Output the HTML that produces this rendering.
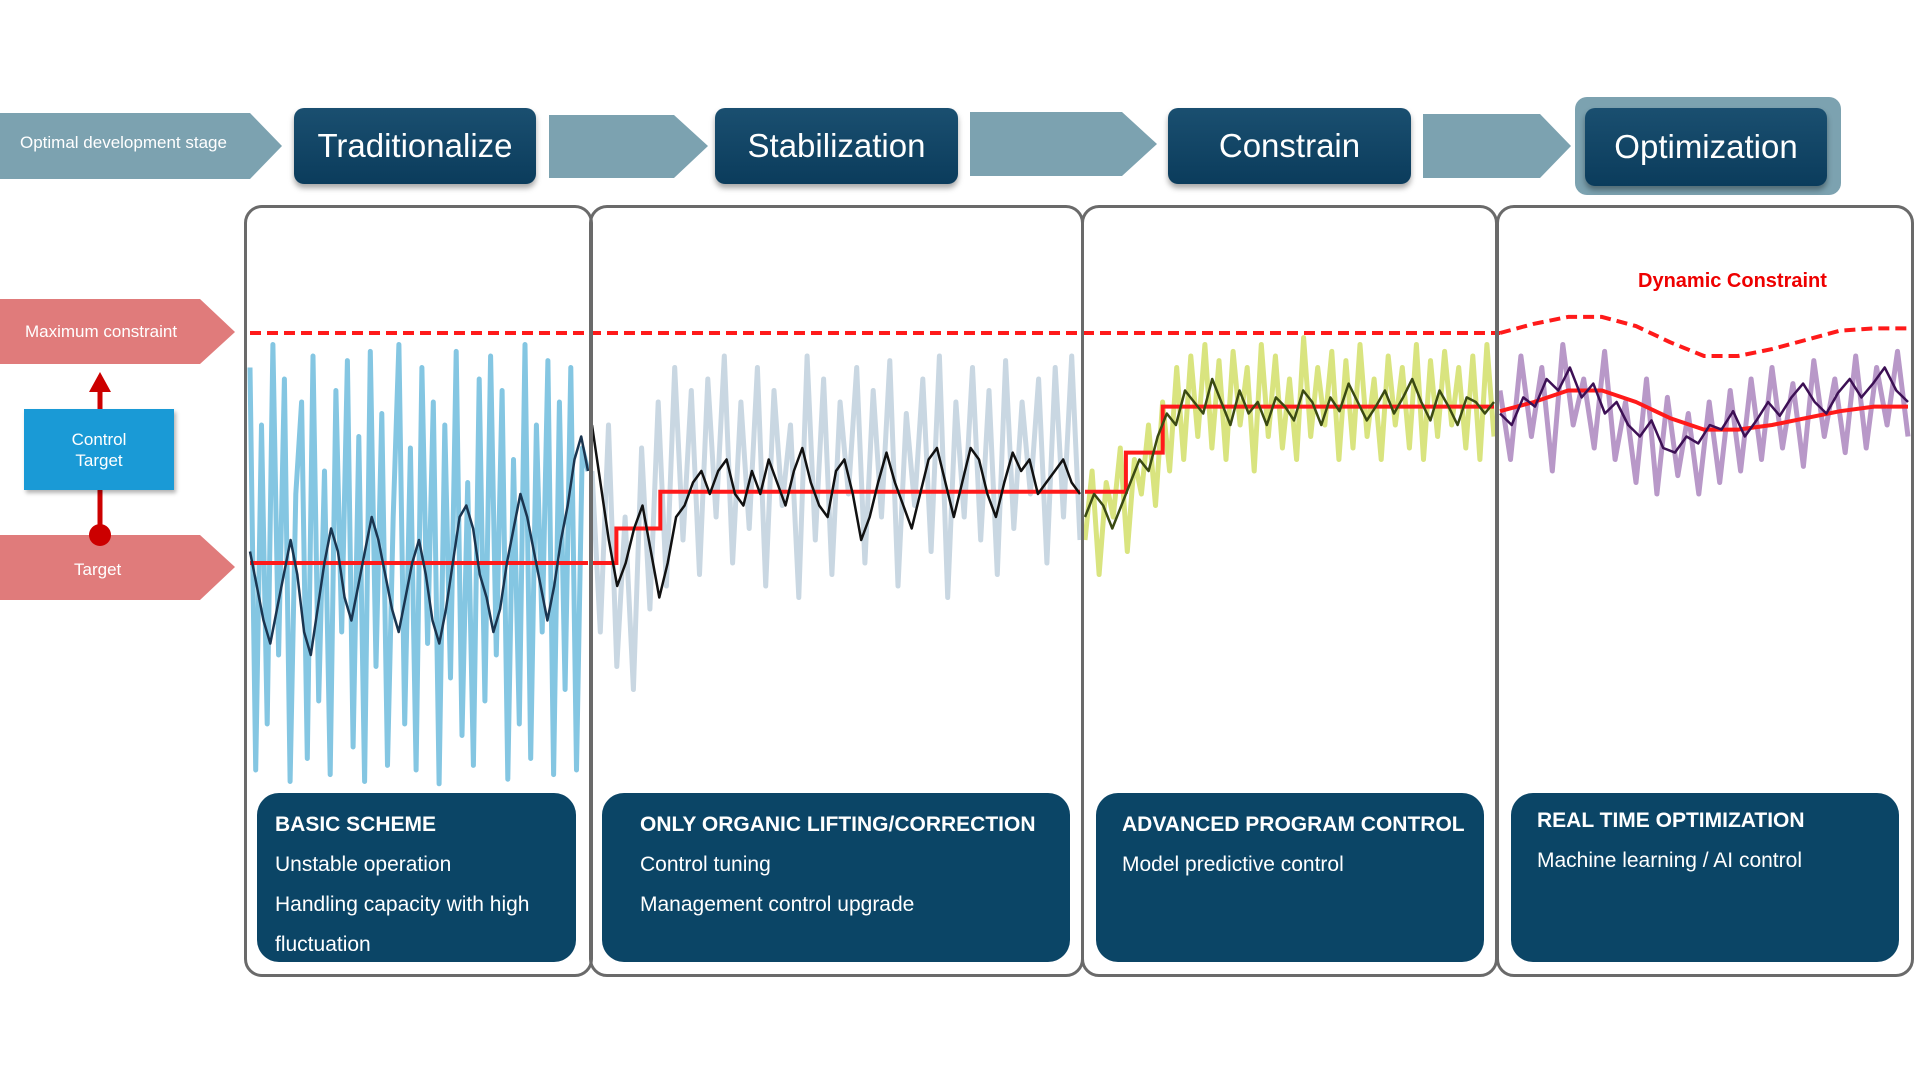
<!DOCTYPE html>
<html><head><meta charset="utf-8"><style>
body{margin:0;width:1920px;height:1080px;background:#fff;overflow:hidden;font-family:"Liberation Sans",sans-serif;position:relative}
.a{position:absolute}
.hb{position:absolute;background:linear-gradient(#1a4f70,#0b3c5c);border-radius:10px;box-shadow:0 4px 6px rgba(0,0,0,.35);color:#fff;font-size:33px;display:flex;align-items:center;justify-content:center}
.bb{position:absolute;background:#0b4566;border-radius:22px;color:#fff;font-size:21px;line-height:40px;padding:12px 18px;box-sizing:border-box}
.bb b{font-size:21px}
.panel{position:absolute;border:3px solid #6a6a6a;border-radius:18px;box-sizing:border-box}
</style></head><body>
<svg class="a" style="left:0;top:0" width="1920" height="1080">
<polygon points="0,113 250,113 282,146 250,179 0,179" fill="#7ca2b0"/>
<polygon points="549,115 674,115 708,146 674,178 549,178" fill="#7ca2b0"/>
<polygon points="970,112 1122,112 1157,144 1122,176 970,176" fill="#7ca2b0"/>
<polygon points="1423,114 1540,114 1571,146 1540,178 1423,178" fill="#7ca2b0"/>
<polygon points="0,299 200,299 235,332 200,364 0,364" fill="#e07b7b"/>
<polygon points="0,535 200,535 235,567 200,600 0,600" fill="#e07b7b"/>
<line x1="100" y1="392" x2="100" y2="410" stroke="#c00" stroke-width="5"/>
<polygon points="89,392 111,392 100,372" fill="#c00"/>
<line x1="100" y1="490" x2="100" y2="530" stroke="#c00" stroke-width="5"/>
<circle cx="100" cy="535" r="11" fill="#c00"/>
<g id="plot"></g>
</svg>
<div class="a" style="left:20px;top:133px;color:#fff;font-size:17px">Optimal development stage</div>
<div class="a" style="left:25px;top:322px;color:#fff;font-size:17px">Maximum constraint</div>
<div class="a" style="left:74px;top:560px;color:#fff;font-size:17px">Target</div>
<div class="a" style="left:24px;top:409px;width:150px;height:81px;background:#1a9ad6;box-shadow:2px 3px 4px rgba(0,0,0,.3);color:#fff;font-size:17px;text-align:center;display:flex;align-items:center;justify-content:center;line-height:21px">Control<br>Target</div>
<div class="hb" style="left:294px;top:108px;width:242px;height:76px">Traditionalize</div>
<div class="hb" style="left:715px;top:108px;width:243px;height:76px">Stabilization</div>
<div class="hb" style="left:1168px;top:108px;width:243px;height:76px">Constrain</div>
<div class="a" style="left:1575px;top:97px;width:266px;height:98px;background:#7ca2b0;border-radius:12px"></div>
<div class="hb" style="left:1585px;top:108px;width:242px;height:78px">Optimization</div>
<div class="panel" style="left:244px;top:205px;width:349px;height:772px"></div>
<div class="panel" style="left:589px;top:205px;width:495px;height:772px"></div>
<div class="panel" style="left:1081px;top:205px;width:417px;height:772px"></div>
<div class="panel" style="left:1496px;top:205px;width:418px;height:772px"></div>
<div class="a" style="left:1638px;top:270px;color:#e00;font-size:20px;font-weight:bold">Dynamic Constraint</div>
<div class="bb" style="left:257px;top:793px;width:319px;height:169px"><b>BASIC SCHEME</b><br>Unstable operation<br>Handling capacity with high<br>fluctuation</div>
<div class="bb" style="left:602px;top:793px;width:468px;height:169px;padding-left:38px"><b>ONLY ORGANIC LIFTING/CORRECTION</b><br>Control tuning<br>Management control upgrade</div>
<div class="bb" style="left:1096px;top:793px;width:388px;height:169px;padding-left:26px"><b>ADVANCED PROGRAM CONTROL</b><br>Model predictive control</div>
<div class="bb" style="left:1511px;top:793px;width:388px;height:169px;padding-top:8px;padding-left:26px"><b>REAL TIME OPTIMIZATION</b><br>Machine learning / AI control</div>
<script>
const p1Noise=[85,-90,60,-70,95,-40,80,-95,30,70,-85,90,-60,40,-92,75,-30,88,-80,55,-95,92,-45,65,-88,20,95,-70,50,-90,85,-35,70,-96,60,-50,92,-75,35,-88,80,-60,90,-40,75,-94,45,-70,95,-85,60,-30,88,-92,70,-55,85,-90,50,40];
const p1Line=[5,-10,-25,-35,-20,-5,10,-5,-30,-40,-20,0,15,5,-15,-25,-10,5,20,10,-5,-20,-30,-15,0,10,-5,-25,-35,-20,0,20,25,15,-5,-15,-30,-20,0,15,30,20,5,-10,-25,-10,10,25,45,55,40];
const p2Noise=[40,-30,60,-45,20,-55,50,-20,70,-10,85,10,75,-5,80,20,90,0,70,15,85,-10,75,25,60,-15,90,10,80,-5,70,30,85,0,75,20,88,-10,65,25,80,5,90,-15,70,20,85,10,75,-5,88,15,70,30,80,0,85,20,90,10];
const p2Line=[60,35,10,-10,0,15,25,5,-15,0,20,25,35,40,30,40,45,30,25,40,30,45,35,25,40,50,35,25,20,40,45,30,10,20,35,48,35,25,15,30,45,50,35,20,35,50,45,30,20,35,48,40,45,30,35,40,45,35,30];
const p3Noise=[10,40,-5,35,20,50,5,45,30,60,25,70,40,85,45,90,55,95,50,88,45,92,60,85,40,95,55,90,50,80,45,98,55,85,60,92,45,88,50,95,55,80,45,90,60,85,50,95,45,88,55,92,60,85,50,90,45,95,55];
const p3Line=[20,30,25,15,25,35,45,40,55,65,60,75,70,65,80,70,60,75,65,70,60,72,68,62,75,70,60,72,66,78,70,62,68,75,65,72,80,70,62,75,68,60,72,70,65,70];
const p4Noise=[75,45,90,55,85,40,95,60,80,50,92,45,70,35,80,30,72,38,65,30,70,35,75,40,80,45,85,50,78,42,88,55,80,48,90,50,85,60,92,55];
const p4Line=[65,60,72,68,80,75,85,72,78,65,70,60,55,62,50,48,55,52,60,58,66,55,62,70,64,72,78,70,65,74,80,72,78,85,75,70];
const p4Target=[66,70,75,75,70,63,58,58,60,63,66,68,68];
const p4Constraint=[100,104,107,107,103,96,90,90,93,97,101,102,102];
// setpoint steps: [start-fraction-of-panel, value]
const p2Steps=[[0,0],[0.05,15],[0.14,31]];
const p3Steps=[[0,31],[0.1,48],[0.19,68]];
const panels=[[250,588],[592,1080],[1085,1494],[1500,1908]];
const maxConstraint=100;
function Y(v){return 563-v*2.3;}
function X(p,f){return panels[p][0]+(panels[p][1]-panels[p][0])*f;}
const g=document.getElementById('plot');
const NS='http://www.w3.org/2000/svg';
function poly(p,arr,color,w,name,extra){
  const el=document.createElementNS(NS,'polyline');
  el.setAttribute('points',arr.map((v,i)=>X(p,i/(arr.length-1)).toFixed(1)+','+Y(v).toFixed(1)).join(' '));
  el.setAttribute('fill','none');el.setAttribute('stroke',color);el.setAttribute('stroke-width',w);
  el.setAttribute('stroke-linejoin','round');
  if(extra)el.setAttribute('stroke-dasharray',extra);
  
  
  g.appendChild(el);
}
function steps(p,st,end){
  let pts=[];
  st.forEach((s,i)=>{const x0=X(p,s[0]);const x1=i<st.length-1?X(p,st[i+1][0]):X(p,1);pts.push(x0+','+Y(s[1]),x1+','+Y(s[1]));});
  const el=document.createElementNS(NS,'polyline');
  el.setAttribute('points',pts.join(' '));el.setAttribute('fill','none');el.setAttribute('stroke','#ff1a1a');el.setAttribute('stroke-width',4);
  
  
  g.appendChild(el);
}
poly(0,p1Noise,'#84c6e2',5,'noise-traditionalize');
poly(1,p2Noise,'#c9d7e2',5,'noise-stabilization');
poly(2,p3Noise,'#d9e47f',5,'noise-constrain');
poly(3,p4Noise,'#b898c8',5,'noise-optimization');
// max constraint dashed across panels 1-3
const mc=document.createElementNS(NS,'line');
mc.setAttribute('x1',250);mc.setAttribute('x2',1500);mc.setAttribute('y1',Y(maxConstraint));mc.setAttribute('y2',Y(maxConstraint));
mc.setAttribute('stroke','#ff1a1a');mc.setAttribute('stroke-width',4);mc.setAttribute('stroke-dasharray','11 6');


g.appendChild(mc);
poly(3,p4Constraint,'#ff1a1a',4,'dynamic-constraint-line','11 6');
steps(0,[[0,0]]);steps(1,p2Steps);steps(2,p3Steps);
poly(3,p4Target,'#ff1a1a',4,'dynamic-target-line');
poly(0,p1Line,'#1a3550',2.5,'controlled-traditionalize');
poly(1,p2Line,'#111',2.5,'controlled-stabilization');
poly(2,p3Line,'#3a4a12',2.5,'controlled-constrain');
poly(3,p4Line,'#3d1055',2.5,'controlled-optimization');
</script>
</body></html>
